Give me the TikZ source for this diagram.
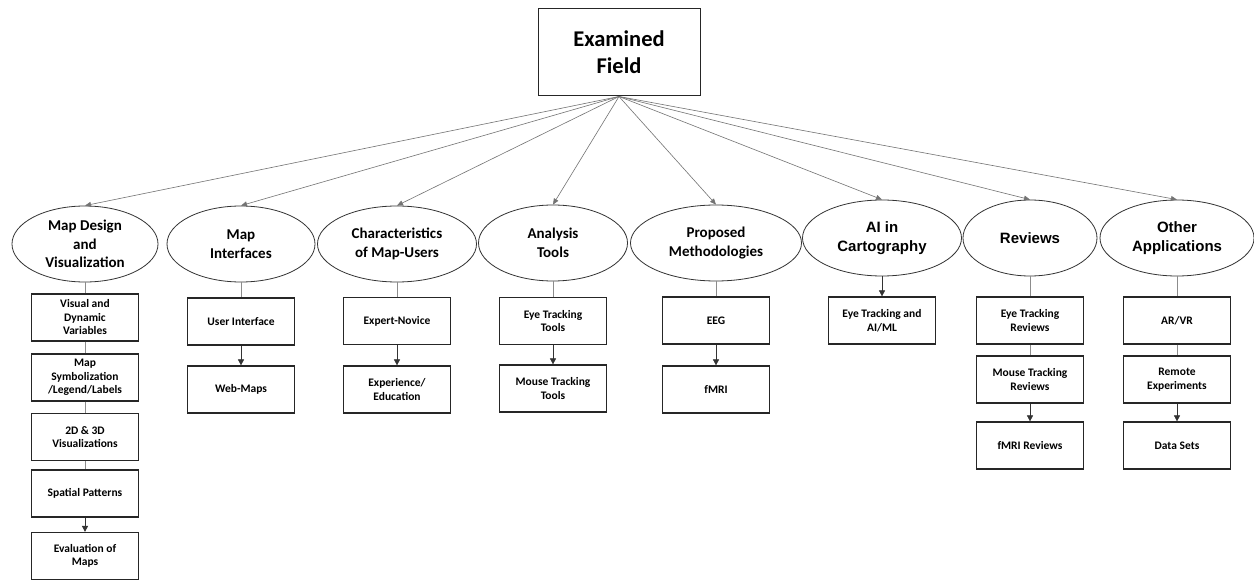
\documentclass[tikz,border=0pt]{standalone}
\usepackage{fontspec}
\setmainfont{Carlito}
\newfontfamily\arialf{Liberation Sans}
\usetikzlibrary{shapes.geometric,arrows.meta}
\begin{document}
\begin{tikzpicture}[x=1pt,y=-1pt,
  topbox/.style={draw=black!85,line width=1pt,minimum width=162pt,minimum height=87pt,inner sep=0pt,align=center,font=\fontsize{22.5}{27}\selectfont\bfseries},
  cat/.style={ellipse,draw=black!80,line width=0.8pt,minimum height=76pt,inner sep=0pt,align=center,font=\fontsize{15}{18.5}\selectfont\bfseries},
  catb/.style={cat,font=\arialf\fontsize{15}{19}\selectfont\bfseries},
  sub/.style={rectangle,draw=black!85,line width=1.2pt,minimum width=107pt,minimum height=47pt,inner sep=0pt,align=center,font=\fontsize{11.5}{13.5}\selectfont\bfseries},
  fan/.style={draw=black!55,line width=0.6pt,-{Triangle[length=6pt,width=5pt]}},
  link/.style={draw=black!45,line width=0.8pt},
  arr/.style={draw=black!80,line width=0.6pt,-{Triangle[length=6pt,width=6pt]}}]
\useasboundingbox (0,0) rectangle (1254,580);
\fill[white] (0,0) rectangle (1254,580);

\node[topbox] (top) at (619,52.5) {Examined\\Field};

\node[cat,minimum width=146pt] (e1) at (85,244) {Map Design\\and\\Visualization};
\node[cat,minimum width=148pt] (e2) at (241,244) {Map\\Interfaces};
\node[cat,minimum width=159pt] (e3) at (397,244) {Characteristics\\of Map-Users};
\node[cat,minimum width=149pt] (e4) at (553,243) {Analysis\\Tools};
\node[cat,minimum width=171pt] (e5) at (716,243) {Proposed\\Methodologies};
\node[catb,minimum width=159pt] (e6) at (882,238) {AI in\\Cartography};
\node[catb,minimum width=134pt] (e7) at (1030,238) {Reviews};
\node[catb,minimum width=154pt] (e8) at (1177,238) {Other\\Applications};

\foreach \i in {1,...,8} {\draw[fan] (top.south) -- (e\i.north);}

% column 1
\node[sub] (a1) at (85,317.5) {Visual and\\Dynamic\\Variables};
\node[sub] (a2) at (85,377.5) {Map\\Symbolization\\/Legend/Labels};
\node[sub] (a3) at (85,437) {2D \& 3D\\Visualizations};
\node[sub] (a4) at (85,493.5) {Spatial Patterns};
\node[sub] (a5) at (85,556) {Evaluation of\\Maps};
\draw[link] (e1.south) -- (a1.north);
\draw[link] (a1.south) -- (a2.north);
\draw[link] (a2.south) -- (a3.north);
\draw[link] (a3.south) -- (a4.north);
\draw[arr] (a4.south) -- (a5.north);

% column 2
\node[sub] (b1) at (241,321.5) {User Interface};
\node[sub] (b2) at (241,389.5) {Web-Maps};
\draw[link] (e2.south) -- (b1.north);
\draw[arr] (b1.south) -- (b2.north);

% column 3
\node[sub] (c1) at (397,321) {Expert-Novice};
\node[sub] (c2) at (397,389.5) {Experience/\\Education};
\draw[link] (e3.south) -- (c1.north);
\draw[arr] (c1.south) -- (c2.north);

% column 4
\node[sub] (d1) at (553,321) {Eye Tracking\\Tools};
\node[sub] (d2) at (553,388.5) {Mouse Tracking\\Tools};
\draw[link] (e4.south) -- (d1.north);
\draw[arr] (d1.south) -- (d2.north);

% column 5
\node[sub] (f1) at (716,320.5) {EEG};
\node[sub] (f2) at (716,389.5) {fMRI};
\draw[link] (e5.south) -- (f1.north);
\draw[arr] (f1.south) -- (f2.north);

% column 6
\node[sub] (g1) at (882,320.5) {Eye Tracking and\\AI/ML};
\draw[arr] (e6.south) -- (g1.north);

% column 7
\node[sub] (h1) at (1030,320.5) {Eye Tracking\\Reviews};
\node[sub] (h2) at (1030,379.5) {Mouse Tracking\\Reviews};
\node[sub] (h3) at (1030,445.5) {fMRI Reviews};
\draw[link] (e7.south) -- (h1.north);
\draw[link] (h1.south) -- (h2.north);
\draw[arr] (h2.south) -- (h3.north);

% column 8
\node[sub] (k1) at (1177,320.5) {AR/VR};
\node[sub] (k2) at (1177,379.5) {Remote\\Experiments};
\node[sub] (k3) at (1177,445.5) {Data Sets};
\draw[link] (e8.south) -- (k1.north);
\draw[link] (k1.south) -- (k2.north);
\draw[arr] (k2.south) -- (k3.north);
\end{tikzpicture}
\end{document}
